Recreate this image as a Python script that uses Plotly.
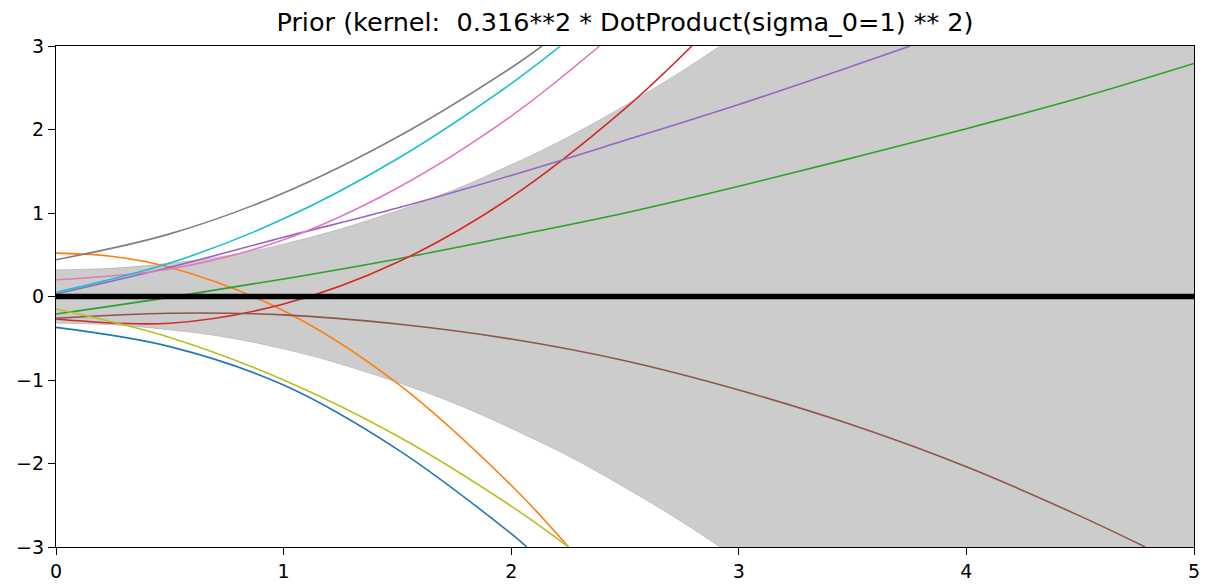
import plotly.graph_objects as go

# Band (prior mean +/- std)
band_x = [0, 0.25, 0.5, 0.75, 1.0, 1.25, 1.5, 1.75, 2.0, 2.25, 2.5, 2.75, 3.0, 3.5, 4.0, 4.5, 5.0]
band_half = [0.32, 0.34, 0.40, 0.49, 0.63, 0.81, 1.03, 1.28, 1.58, 1.91, 2.29, 2.70, 3.16, 4.19, 5.37, 6.72, 8.22]

mean_x = [0, 5]
mean_y = [0, 0]

# Sample curves (x, y)
blue_x = [0, 0.5, 1.0, 1.5, 2.0, 2.069]
blue_y = [-0.37, -0.60, -1.06, -1.83, -2.84, -3.0]

orange_x = [0, 0.25, 0.5, 1.0, 1.5, 2.0, 2.252]
orange_y = [0.52, 0.48, 0.35, -0.17, -1.04, -2.26, -3.0]

green_x = [0, 0.5, 1.0, 1.5, 2.0, 2.5, 3.0, 3.5, 4.0, 4.5, 5.0]
green_y = [-0.21, -0.01, 0.21, 0.45, 0.72, 1.00, 1.32, 1.66, 2.01, 2.38, 2.79]

red_x = [0, 0.5, 1.0, 1.5, 2.0, 2.5, 2.794]
red_y = [-0.27, -0.32, -0.09, 0.41, 1.19, 2.25, 3.0]

purple_x = [0, 0.5, 1.0, 1.5, 2.0, 2.5, 3.0, 3.5, 3.753]
purple_y = [0.03, 0.35, 0.71, 1.06, 1.45, 1.87, 2.30, 2.76, 3.0]

brown_x = [0, 0.5, 1.0, 1.5, 2.0, 2.5, 3.0, 3.5, 4.0, 4.5, 4.786]
brown_y = [-0.26, -0.20, -0.22, -0.33, -0.51, -0.77, -1.12, -1.54, -2.04, -2.63, -3.0]

pink_x = [0, 0.5, 1.0, 1.5, 2.0, 2.388]
pink_y = [0.20, 0.33, 0.68, 1.30, 2.16, 3.0]

gray_x = [0, 0.5, 1.0, 1.5, 2.0, 2.135]
gray_y = [0.44, 0.75, 1.24, 1.91, 2.74, 3.0]

olive_x = [0, 0.5, 1.0, 1.5, 2.0, 2.252]
olive_y = [-0.15, -0.49, -1.00, -1.67, -2.51, -3.0]

cyan_x = [0, 0.5, 1.0, 1.5, 2.0, 2.216]
cyan_y = [0.05, 0.40, 0.93, 1.65, 2.55, 3.0]

x_ticks = [0, 1, 2, 3, 4, 5]
y_ticks = [-3, -2, -1, 0, 1, 2, 3]

samples = [
    (blue_x, blue_y, "#1f77b4"),
    (orange_x, orange_y, "#ff7f0e"),
    (green_x, green_y, "#2ca02c"),
    (red_x, red_y, "#d62728"),
    (purple_x, purple_y, "#9467bd"),
    (brown_x, brown_y, "#8c564b"),
    (pink_x, pink_y, "#e377c2"),
    (gray_x, gray_y, "#7f7f7f"),
    (olive_x, olive_y, "#bcbd22"),
    (cyan_x, cyan_y, "#17becf"),
]

fig = go.Figure()

upper = [h for h in band_half]
lower = [-h for h in band_half]

fig.add_trace(go.Scatter(x=band_x, y=upper, mode="lines",
                         line=dict(color="rgba(0,0,0,0.15)", width=0.8, shape="spline"),
                         showlegend=False, hoverinfo="skip"))
fig.add_trace(go.Scatter(x=band_x, y=lower, mode="lines", fill="tonexty",
                         fillcolor="rgba(0,0,0,0.2)",
                         line=dict(color="rgba(0,0,0,0.15)", width=0.8, shape="spline"),
                         showlegend=False, hoverinfo="skip"))

for sx, sy, col in samples:
    fig.add_trace(go.Scatter(x=sx, y=sy, mode="lines",
                             line=dict(color=col, width=1.6, shape="spline"),
                             showlegend=False))

fig.add_trace(go.Scatter(x=mean_x, y=mean_y, mode="lines",
                         line=dict(color="black", width=5.5),
                         showlegend=False))

axis_common = dict(showgrid=False, zeroline=False, showline=True, mirror=True,
                   linecolor="black", linewidth=1.2, ticks="outside", ticklen=7,
                   tickwidth=1.2, tickcolor="black", automargin=False,
                   tickfont=dict(family="DejaVu Sans", size=19, color="black"))

fig.update_xaxes(range=[0, 5], tickvals=x_ticks, **axis_common)
fig.update_yaxes(range=[-3, 3], tickvals=y_ticks, **axis_common)

fig.update_layout(
    width=1206, height=587,
    margin=dict(l=56, r=12, t=46, b=40),
    plot_bgcolor="white", paper_bgcolor="white",
    title=dict(text="Prior (kernel:\u00a0 0.316**2 * DotProduct(sigma_0=1) ** 2)",
               x=0.5, xref="paper", xanchor="center",
               y=1 - 22 / 587, yref="container", yanchor="middle",
               font=dict(family="DejaVu Sans", size=25.5, color="black")),
)

fig.write_html("out.html")
